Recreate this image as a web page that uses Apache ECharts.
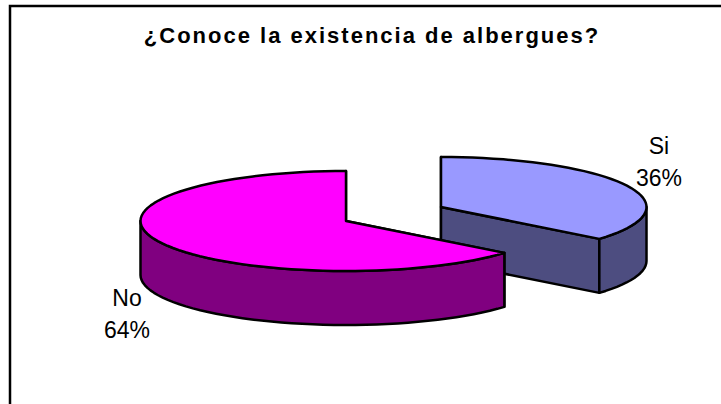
<!DOCTYPE html>
<html>
<head>
<meta charset="utf-8">
<title>Albergues</title>
<script src="https://cdn.jsdelivr.net/npm/echarts@6/dist/echarts.min.js"></script>
<style>
  html, body { margin: 0; padding: 0; background: #fff; }
  #chart { width: 721px; height: 404px; }
  /* only the title is bold, the original has it widely spaced */
  #chart text[style*="bold"] { letter-spacing: 2px; }
</style>
</head>
<body>
<div id="chart"></div>
<script>
  const chartTitle = '¿Conoce la existencia de albergues?'
  const sliceNames = ['Si', 'No']
  const sliceValues = [36, 64]

  // look of the fake 3d pie
  const topColors = ['#9999ff', '#ff00ff']
  const sideColors = ['#4d4d80', '#800080']
  const centers = [[441, 207], [346, 221]]
  const labelPos = [[659, 162], [127, 314]]
  const rx = 205.5
  const ry = 50
  const depth = 54

  const total = sliceValues.reduce((a, b) => a + b, 0)

  // angle is clockwise from 12 o'clock, in degrees
  function rimPoint (c, deg, drop) {
    const r = deg * Math.PI / 180
    return [c[0] + rx * Math.sin(r), c[1] - ry * Math.cos(r) + (drop || 0)]
  }

  function arcPoints (c, from, to, drop) {
    const pts = []
    const steps = Math.max(1, Math.ceil((to - from) / 3))
    for (let i = 0; i <= steps; i++) {
      pts.push(rimPoint(c, from + (to - from) * i / steps, drop))
    }
    return pts
  }

  function poly (points, fill) {
    return {
      type: 'polygon',
      shape: { points: points },
      style: { fill: fill, stroke: '#000', lineWidth: 2.5, lineJoin: 'round' }
    }
  }

  function label (x, y, text) {
    return {
      type: 'text',
      style: {
        x: x,
        y: y,
        text: text,
        fill: '#000',
        font: '23px "Liberation Sans", Arial, sans-serif',
        textAlign: 'center',
        textVerticalAlign: 'middle'
      }
    }
  }

  function renderSlice (params, api) {
    const i = params.dataIndex
    const c = centers[i]
    let before = 0
    for (let k = 0; k < i; k++) before += sliceValues[k]
    const from = before / total * 360
    const to = from + api.value(0) / total * 360
    const side = sideColors[i]
    const children = []

    // cut faces first, the later parts paint over what is hidden
    ;[from, to].forEach(function (deg) {
      const p = rimPoint(c, deg)
      children.push(poly([c, p, [p[0], p[1] + depth], [c[0], c[1] + depth]], side))
    })

    // only the front half of the rim can be seen
    const a = Math.max(from, 90)
    const b = Math.min(to, 270)
    if (b > a) {
      const upper = arcPoints(c, a, b)
      const lower = arcPoints(c, a, b, depth).reverse()
      children.push(poly(upper.concat(lower), side))
    }

    children.push(poly([c].concat(arcPoints(c, from, to)), topColors[i]))

    children.push(label(labelPos[i][0], labelPos[i][1] - 16, sliceNames[i]))
    children.push(label(labelPos[i][0], labelPos[i][1] + 16, Math.round(api.value(0) / total * 100) + '%'))

    return { type: 'group', children: children }
  }

  const myChart = echarts.init(document.getElementById('chart'), null, { renderer: 'svg' })
  myChart.setOption({
    animation: false,
    backgroundColor: '#fff',
    title: {
      text: chartTitle,
      left: 367,
      top: 19,
      textAlign: 'center',
      textStyle: {
        color: '#000',
        fontFamily: '"Liberation Sans", Arial, sans-serif',
        fontWeight: 'bold',
        fontSize: 22
      }
    },
    graphic: [{
      type: 'polyline',
      shape: { points: [[10, 406], [10, 6], [723, 6]] },
      style: { fill: 'none', stroke: '#000', lineWidth: 2.5 }
    }],
    series: [{
      type: 'custom',
      coordinateSystem: 'none',
      renderItem: renderSlice,
      data: sliceValues.map(function (v) { return [v] })
    }]
  })
</script>
</body>
</html>
